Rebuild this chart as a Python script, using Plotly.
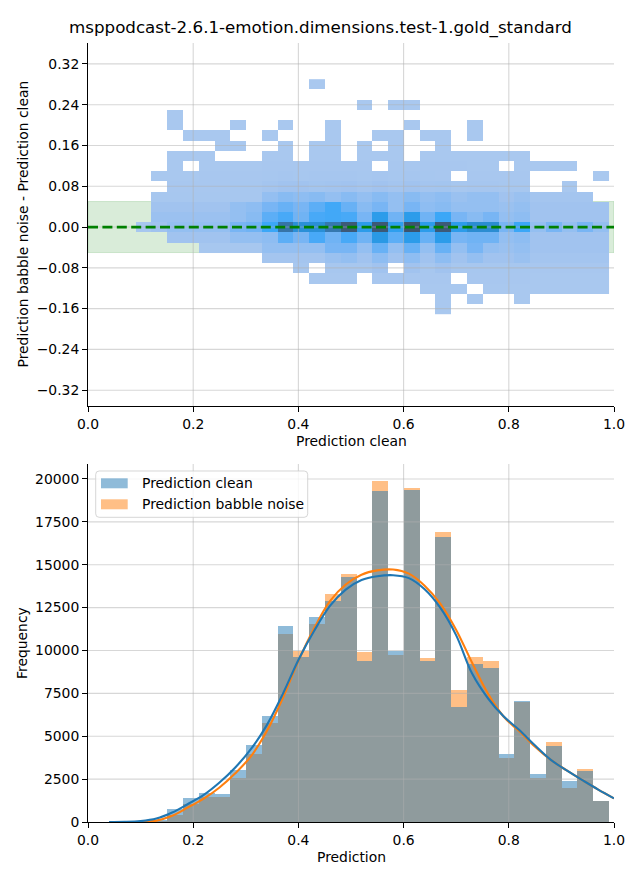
import math
import numpy as np
import plotly.graph_objects as go

TITLE = "msppodcast-2.6.1-emotion.dimensions.test-1.gold_standard"

# ---------------- 1D histogram (bottom panel) ----------------
bin_start = 0.0305
bin_width = 0.03
clean_counts = [10, 20, 40, 100, 760, 1420, 1670, 1650, 3030, 4490, 6180, 11430, 9640, 11970,
                12890, 14270, 9390, 19300, 9970, 19360, 9390, 16620, 6710, 9210, 8980, 3965,
                7060, 2800, 4430, 2390, 2950, 1225]
babble_counts = [0, 5, 20, 60, 400, 1050, 1480, 1480, 2550, 3970, 5750, 10960, 9990, 11550,
                 13290, 14460, 9930, 19880, 9740, 19475, 9540, 16910, 7700, 9640, 9390, 3730,
                 7000, 2570, 4665, 1980, 3090, 1200]

# KDE curves
kde_clean_x = [0.04, 0.07, 0.10, 0.13, 0.16, 0.19, 0.22, 0.25, 0.28, 0.31, 0.34, 0.37, 0.40,
               0.43, 0.46, 0.49, 0.52, 0.55, 0.58, 0.61, 0.64, 0.67, 0.70, 0.73, 0.76, 0.79,
               0.82, 0.85, 0.88, 0.91, 0.94, 0.97, 1.00]
kde_clean_y = [0, 5, 50, 200, 550, 1050, 1580, 2300, 3180, 4260, 5650, 7440, 9450,
               11150, 12600, 13550, 14110, 14330, 14390, 14220, 13570, 12480, 10880, 8670, 7230, 6160,
               5360, 4460, 3620, 3010, 2440, 1890, 1380]
kde_babble_x = [0.10, 0.13, 0.16, 0.19, 0.22, 0.25, 0.28, 0.31, 0.34, 0.37, 0.40,
                0.43, 0.46, 0.49, 0.52, 0.55, 0.58, 0.61, 0.64, 0.67, 0.70, 0.73, 0.76, 0.79,
                0.82, 0.85, 0.88, 0.91, 0.94, 0.97, 1.00]
kde_babble_y = [0, 80, 360, 850, 1360, 2010, 2840, 3840, 5300, 7200, 9400,
                11300, 12880, 13850, 14420, 14670, 14720, 14480, 13780, 12720, 11200, 9300, 7500, 6150,
                5290, 4390, 3620, 3010, 2440, 1890, 1380]

# ---------------- 2D histogram (top panel) ----------------
diff_bin_start = -0.17
diff_bin_width = 0.02
# rows listed from top (diff = 0.28) to bottom (diff = -0.16); 32 columns = prediction bins
diff_rows_top_to_bottom = [
    [0,0,0,0,0,0,0,0,0,0,0,0,0,100,0,0,0,0,0,0,0,0,0,0,0,0,0,0,0,0,0,0],
    [0,0,0,0,0,0,0,0,0,0,0,0,0,0,0,0,0,0,0,0,0,0,0,0,0,0,0,0,0,0,0,0],
    [0,0,0,0,0,0,0,0,0,0,0,0,0,0,0,0,100,0,100,100,0,0,0,0,0,0,0,0,0,0,0,0],
    [0,0,0,0,100,0,0,0,0,0,0,0,0,0,0,0,0,0,0,0,0,0,0,0,0,0,0,0,0,0,0,0],
    [0,0,0,0,100,0,0,0,100,0,0,100,0,0,100,0,0,0,0,100,0,0,0,100,0,0,0,0,0,0,0,0],
    [0,0,0,0,0,100,100,100,0,0,100,0,0,0,100,0,0,100,100,0,100,100,0,100,0,0,0,0,0,0,0,0],
    [0,0,0,0,0,0,0,100,100,0,0,100,0,100,100,0,100,0,100,0,0,100,0,0,0,0,0,0,0,0,0,0],
    [0,0,0,0,100,100,100,0,0,0,100,100,0,100,100,0,100,100,100,0,100,100,100,100,100,100,100,0,0,0,0,0],
    [0,0,0,0,100,0,100,100,100,100,150,150,150,150,150,150,150,0,150,150,150,150,150,100,100,0,100,100,100,100,0,0],
    [0,0,0,100,100,100,150,150,150,150,200,250,200,250,250,250,200,250,200,250,200,150,0,150,150,150,150,0,0,0,0,100],
    [0,0,0,0,150,150,150,150,200,200,300,450,450,350,400,450,300,450,300,450,300,350,200,250,250,200,200,0,0,100,0,0],
    [0,0,0,200,200,200,200,200,200,200,900,1300,1100,1300,900,1300,900,1300,900,1300,900,1100,700,900,900,450,700,300,300,300,300,0],
    [0,0,0,450,450,450,450,450,900,1100,1800,2200,1800,2500,3000,2200,1300,1800,900,1800,1100,1300,900,900,900,700,900,450,450,450,450,450],
    [0,0,0,650,650,650,650,650,900,1300,2500,2900,2000,2900,3000,2900,1800,4000,2000,4000,2000,3100,1800,1300,1800,900,1100,450,450,450,450,450],
    [0,0,200,450,900,900,900,900,1800,2000,3100,7300,5000,5100,7000,9500,4000,9600,3800,10000,4000,9500,4000,5300,5300,1800,3100,900,1800,900,1800,900],
    [0,0,0,0,450,450,450,450,900,900,1100,2500,1800,2900,2000,2900,2000,4300,2500,4000,2200,4000,1800,2000,2000,900,1100,450,450,450,450,450],
    [0,0,0,0,0,0,200,200,200,200,900,900,900,900,1800,1800,900,2200,900,2200,900,2200,900,1800,900,700,900,450,450,450,450,450],
    [0,0,0,0,0,0,0,0,0,0,300,300,300,300,700,900,450,1100,450,1100,450,1100,450,900,450,450,700,300,300,300,300,300],
    [0,0,0,0,0,0,0,0,0,0,0,0,200,0,200,200,200,450,0,450,200,450,200,200,200,200,200,150,150,150,150,150],
    [0,0,0,0,0,0,0,0,0,0,0,0,0,100,100,100,0,150,150,150,150,150,0,150,150,150,150,100,100,100,100,100],
    [0,0,0,0,0,0,0,0,0,0,0,0,0,0,0,0,0,0,0,0,100,100,100,0,100,100,100,100,100,100,100,100],
    [0,0,0,0,0,0,0,0,0,0,0,0,0,0,0,0,0,0,0,0,0,100,0,100,0,0,100,0,0,0,0,0],
    [0,0,0,0,0,0,0,0,0,0,0,0,0,0,0,0,0,0,0,0,0,100,0,0,0,0,0,0,0,0,0,0],
]

top_xticks = [0.0, 0.2, 0.4, 0.6, 0.8, 1.0]
top_xticktext = ["0.0", "0.2", "0.4", "0.6", "0.8", "1.0"]
top_yticks = [-0.32, -0.24, -0.16, -0.08, 0.0, 0.08, 0.16, 0.24, 0.32]
top_yticktext = ["\u22120.32", "\u22120.24", "\u22120.16", "\u22120.08", "0.00", "0.08", "0.16", "0.24", "0.32"]
bot_yticks = [0, 2500, 5000, 7500, 10000, 12500, 15000, 17500, 20000]
bot_yticktext = ["0", "2500", "5000", "7500", "10000", "12500", "15000", "17500", "20000"]
top_yrange = [-0.351, 0.361]
bot_yrange = [0, 20874]
band_half = 0.05

# ---------------- seaborn-like colormap (husl ramp) ----------------
M = [[3.2406, -1.5372, -0.4986], [-0.9689, 1.8758, 0.0415], [0.0557, -0.2040, 1.0570]]
M_INV = [[0.4124, 0.3576, 0.1805], [0.2126, 0.7152, 0.0722], [0.0193, 0.1192, 0.9505]]
REF_U, REF_V = 0.19784, 0.46834
LAB_E, LAB_K = 0.008856, 903.3


def max_chroma(L, H):
    hrad = math.radians(H)
    sinH, cosH = math.sin(hrad), math.cos(hrad)
    sub1 = (L + 16) ** 3 / 1560896.0
    sub2 = sub1 if sub1 > LAB_E else L / LAB_K
    result = float("inf")
    for m1, m2, m3 in M:
        top = (0.99915 * m1 + 1.05122 * m2 + 1.14460 * m3) * sub2
        rbottom = 0.86330 * m3 - 0.17266 * m2
        lbottom = 0.12949 * m3 - 0.38848 * m1
        bottom = (rbottom * sinH + lbottom * cosH) * sub2
        for t in (0.0, 1.0):
            C = L * (top - 1.05122 * t) / (bottom + 0.17266 * sinH * t)
            if 0.0 < C < result:
                result = C
    return result


def husl_to_rgb(H, S, L):
    C = max_chroma(L, H) / 100.0 * S
    hr = math.radians(H)
    U, V = math.cos(hr) * C, math.sin(hr) * C
    varY = ((L + 16) / 116) ** 3 if L > LAB_K * LAB_E else L / LAB_K
    varU = U / (13.0 * L) + REF_U
    varV = V / (13.0 * L) + REF_V
    Y = varY
    X = -(9.0 * Y * varU) / ((varU - 4.0) * varV - varU * varV)
    Z = (9.0 * Y - 15.0 * varV * Y - varV * X) / (3.0 * varV)
    out = []
    for row in M:
        c = row[0] * X + row[1] * Y + row[2] * Z
        c = 12.92 * c if c <= 0.0031308 else 1.055 * c ** (1 / 2.4) - 0.055
        out.append(min(max(c, 0.0), 1.0))
    return out


def rgb_to_husl(r, g, b):
    lin = [((c + 0.055) / 1.055) ** 2.4 if c > 0.04045 else c / 12.92 for c in (r, g, b)]
    X, Y, Z = [sum(a * c for a, c in zip(row, lin)) for row in M_INV]
    varU = 4.0 * X / (X + 15.0 * Y + 3.0 * Z)
    varV = 9.0 * Y / (X + 15.0 * Y + 3.0 * Z)
    fy = Y ** (1 / 3) if Y > LAB_E else 7.787 * Y + 16 / 116
    L = 116.0 * fy - 16.0
    U = 13.0 * L * (varU - REF_U)
    V = 13.0 * L * (varV - REF_V)
    C = math.hypot(U, V)
    H = math.degrees(math.atan2(V, U)) % 360
    S = C / max_chroma(L, H) * 100
    return H, S, L


def seaborn_cmap(hex_color):
    r, g, b = [int(hex_color[i:i + 2], 16) / 255 for i in (1, 3, 5)]
    h, s, _ = rgb_to_husl(r, g, b)
    xx = np.linspace(-1, 1, int(1.15 * 256))[:256]
    lights = np.linspace(35, 80, 256)
    cols = [husl_to_rgb(h, s * math.cos(xx[k]), lights[k]) for k in range(256)]
    cols = cols[::-1]
    scale = []
    idx = list(range(0, 256, 5)) + [255]
    for k in idx:
        c = cols[k]
        scale.append([k / 255, "rgb(%d,%d,%d)" % tuple(int(round(v * 255)) for v in c)])
    return scale


colorscale = seaborn_cmap("#1f77b4")

# ---------------- build figure ----------------
W, H = 640, 880
OFF = 8  # page body margin of the viewer
def px_x(p):
    return (p - OFF) / W
def px_y(p):
    return 1 - (p - OFF) / H

n_bins = len(clean_counts)
x_edges = [bin_start + bin_width * k for k in range(n_bins + 1)]
centers = [bin_start + bin_width * (k + 0.5) for k in range(n_bins)]
diff_rows = diff_rows_top_to_bottom[::-1]
y_edges = [diff_bin_start + diff_bin_width * k for k in range(len(diff_rows) + 1)]
z = [[(v if v > 0 else None) for v in row] for row in diff_rows]
zmax = max(max(r) for r in diff_rows)

fig = go.Figure()

fig.add_trace(go.Heatmap(x=x_edges, y=y_edges, z=z, colorscale=colorscale, zmin=0, zmax=zmax,
                         showscale=False, hoverinfo="skip", xaxis="x", yaxis="y"))

grid_color = "rgba(176,176,176,0.5)"
def grid_traces(xticks, yticks, xr, yr, xa, ya):
    gx, gy = [], []
    for v in xticks:
        if xr[0] < v < xr[1]:
            gx += [v, v, None]
            gy += [yr[0], yr[1], None]
    for v in yticks:
        if yr[0] < v < yr[1]:
            gx += [xr[0], xr[1], None]
            gy += [v, v, None]
    return go.Scatter(x=gx, y=gy, mode="lines", line=dict(color=grid_color, width=1.1),
                      hoverinfo="skip", showlegend=False, xaxis=xa, yaxis=ya)

fig.add_trace(grid_traces(top_xticks, top_yticks, [0, 1], top_yrange, "x", "y"))
fig.add_trace(go.Scatter(x=[0, 1], y=[0, 0], mode="lines",
                         line=dict(color="green", width=2.8, dash="10px,4.4px"),
                         hoverinfo="skip", showlegend=False, xaxis="x", yaxis="y"))

# bottom panel: babble first, clean on top
fig.add_trace(go.Bar(x=centers, y=babble_counts, width=bin_width,
                     marker=dict(color="rgba(255,127,14,0.5)", line=dict(width=0)),
                     showlegend=False, hoverinfo="skip", xaxis="x2", yaxis="y2"))
fig.add_trace(go.Bar(x=centers, y=clean_counts, width=bin_width,
                     marker=dict(color="rgba(31,119,180,0.5)", line=dict(width=0)),
                     showlegend=False, hoverinfo="skip", xaxis="x2", yaxis="y2"))
fig.add_trace(grid_traces(top_xticks, bot_yticks, [0, 1], bot_yrange, "x2", "y2"))
fig.add_trace(go.Scatter(x=kde_babble_x, y=kde_babble_y, mode="lines", line=dict(color="#ff7f0e", width=2.1, shape="spline"),
                         showlegend=False, hoverinfo="skip", xaxis="x2", yaxis="y2"))
fig.add_trace(go.Scatter(x=kde_clean_x, y=kde_clean_y, mode="lines", line=dict(color="#1f77b4", width=2.1, shape="spline"),
                         showlegend=False, hoverinfo="skip", xaxis="x2", yaxis="y2"))

font = dict(family="DejaVu Sans", size=13.9, color="black")
axis_common = dict(showgrid=False, zeroline=False, showline=True, linecolor="black", linewidth=1.1,
                   ticks="outside", ticklen=4.9, tickwidth=1.1, tickcolor="black",
                   tickfont=font, mirror=False, automargin=False)
xdom = [px_x(88), px_x(614)]
fig.update_layout(
    width=W, height=H, margin=dict(l=0, r=0, t=0, b=0, pad=0, autoexpand=False),
    paper_bgcolor="white", plot_bgcolor="rgba(0,0,0,0)",
    barmode="overlay", bargap=0, font=font, showlegend=False,
    xaxis=dict(domain=xdom, range=[0, 1], anchor="y", tickvals=top_xticks, ticktext=top_xticktext, **axis_common),
    yaxis=dict(domain=[px_y(406), px_y(43)], range=top_yrange, anchor="x", tickvals=top_yticks, ticktext=top_yticktext, **axis_common),
    xaxis2=dict(domain=xdom, range=[0, 1], anchor="y2", tickvals=top_xticks, ticktext=top_xticktext, **axis_common),
    yaxis2=dict(domain=[px_y(822), px_y(464)], range=bot_yrange, anchor="x2", tickvals=bot_yticks, ticktext=bot_yticktext, **axis_common),
)

shapes = [dict(type="rect", xref="x", yref="y", x0=0, x1=1, y0=-band_half, y1=band_half,
               fillcolor="rgba(0,128,0,0.15)", line=dict(color="rgba(0,128,0,0.15)", width=1), layer="below")]

# legend frame (rounded)
lx0, lx1, ly0, ly1, r = 95.7, 307.7, 471.0, 517.3, 3.5
P = lambda a, b: "%f,%f" % (px_x(a), px_y(b))
path = ("M" + P(lx0 + r, ly0) + " L" + P(lx1 - r, ly0) + " Q" + P(lx1, ly0) + " " + P(lx1, ly0 + r) +
        " L" + P(lx1, ly1 - r) + " Q" + P(lx1, ly1) + " " + P(lx1 - r, ly1) +
        " L" + P(lx0 + r, ly1) + " Q" + P(lx0, ly1) + " " + P(lx0, ly1 - r) +
        " L" + P(lx0, ly0 + r) + " Q" + P(lx0, ly0) + " " + P(lx0 + r, ly0) + " Z")
shapes.append(dict(type="path", xref="paper", yref="paper", path=path,
                   fillcolor="rgba(255,255,255,0.8)", line=dict(color="rgba(204,204,204,0.8)", width=1), layer="above"))
legend_items = [("Prediction clean", "rgba(31,119,180,0.5)", 478.3),
                ("Prediction babble noise", "rgba(255,127,14,0.5)", 499.3)]
annotations = []
for label, col, top in legend_items:
    shapes.append(dict(type="rect", xref="paper", yref="paper", x0=px_x(101), x1=px_x(127.7),
                       y0=px_y(top + 10), y1=px_y(top), fillcolor=col, line=dict(width=0), layer="above"))
    annotations.append(dict(text=label, xref="paper", yref="paper", x=px_x(140), y=px_y(top + 5),
                            xanchor="left", yanchor="middle", showarrow=False, font=font))

annotations += [
    dict(text=TITLE, xref="paper", yref="paper", x=px_x(320), y=px_y(27), xanchor="center", yanchor="middle",
         showarrow=False, font=dict(family="DejaVu Sans", size=16.7, color="black")),
    dict(text="Prediction clean", xref="paper", yref="paper", x=px_x(351), y=px_y(441), xanchor="center",
         yanchor="middle", showarrow=False, font=font),
    dict(text="Prediction", xref="paper", yref="paper", x=px_x(351), y=px_y(857), xanchor="center",
         yanchor="middle", showarrow=False, font=font),
    dict(text="Prediction babble noise - Prediction clean", xref="paper", yref="paper", x=px_x(22),
         y=px_y(224.5), xanchor="center", yanchor="middle", textangle=-90, showarrow=False, font=font),
    dict(text="Frequency", xref="paper", yref="paper", x=px_x(22), y=px_y(643), xanchor="center",
         yanchor="middle", textangle=-90, showarrow=False, font=font),
]
fig.update_layout(shapes=shapes, annotations=annotations)

fig.write_html("out.html")
